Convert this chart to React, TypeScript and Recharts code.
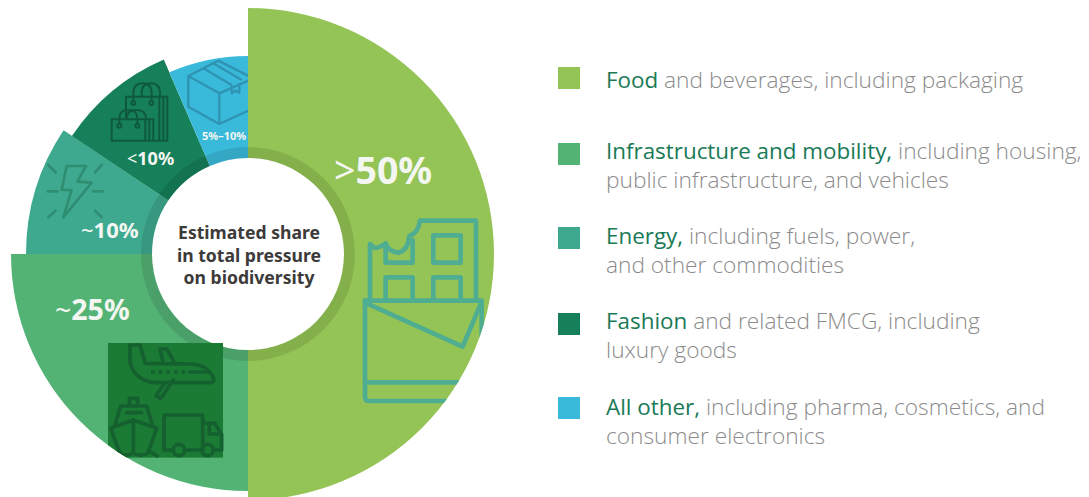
import React from "react";
import { PieChart, Pie, Sector, Legend } from "recharts";

// Share of total pressure on biodiversity, by value chain
const sectors = ["Food", "Infrastructure and mobility", "Energy", "Fashion", "All other"];
const shares = [50, 25, 9.4, 9.1, 6.5];
const shareLabels = [">50%", "~25%", "~10%", "<10%", "5%–10%"];

const centerLines = ["Estimated share", "in total pressure", "on biodiversity"];

const legendLead = ["Food", "Infrastructure and mobility,", "Energy,", "Fashion", "All other,"];
const legendRest = [
  " and beverages, including packaging",
  " including housing,",
  " including fuels, power,",
  " and related FMCG, including",
  " including pharma, cosmetics, and",
];
const legendSecond = [
  "",
  "public infrastructure, and vehicles",
  "and other commodities",
  "luxury goods",
  "consumer electronics",
];

// Presentation settings, kept apart from the values
const sliceColors = ["#94C455", "#53B374", "#3EA98E", "#16805A", "#3ABADB"];
const sliceRadii = [246, 237, 222, 212, 198];
const CX = 248;
const CY = 254;
const HOLE = 96;
const BAND = 107;
const LEAD_COLOR = "#197A56";
const REST_COLOR = "#8B8B8B";
const FONT = "'Open Sans', sans-serif";
const LABEL_FONT = "'Noto Sans', sans-serif";

const pieData = sectors.map((name, i) => ({ name, value: shares[i], index: i }));

const swatchY = [67, 143, 227, 313, 397];
const firstBaseline = [88, 159, 244, 329, 415];
const secondBaseline = [0, 188, 273, 358, 444];

function VariableSlice(props: any) {
  const i = props.payload.index;
  return <Sector {...props} innerRadius={HOLE} outerRadius={sliceRadii[i]} fill={sliceColors[i]} stroke="none" />;
}

function BandSlice(props: any) {
  return <Sector {...props} fill="#000" fillOpacity={0.1} stroke="none" />;
}

function LegendBlock() {
  return (
    <svg width={1089} height={497} style={{ position: "absolute", left: 0, top: 0 }}>
      {sectors.map((name, i) => (
        <g key={name}>
          <rect x={558} y={swatchY[i]} width={22} height={22} fill={sliceColors[i]} />
          <text x={606} y={firstBaseline[i]} fontFamily={FONT} fontSize={22.7} fill={REST_COLOR} fontWeight={300}>
            <tspan fill={LEAD_COLOR} fontWeight={400} fontSize={22.4}>{legendLead[i]}</tspan>
            <tspan>{legendRest[i]}</tspan>
          </text>
          {legendSecond[i] && (
            <text x={606} y={secondBaseline[i]} fontFamily={FONT} fontSize={22.7} fill={REST_COLOR} fontWeight={300}>
              {legendSecond[i]}
            </text>
          )}
        </g>
      ))}
    </svg>
  );
}

function ShareLabel({ x, y, size, text }: { x: number; y: number; size: number; text: string }) {
  const mark = text[0] === ">" || text[0] === "<" || text[0] === "~";
  return (
    <text x={x} y={y} fontFamily={LABEL_FONT} fontSize={size} fontWeight={700} fill="#F4F6F2">
      {mark && <tspan fontWeight={400}>{text[0]}</tspan>}
      <tspan>{mark ? text.slice(1) : text}</tspan>
    </text>
  );
}

// Icons, slice labels and the caption in the hole, layered over the pie
function PieOverlay() {
  return (
    <svg width={1089} height={497} style={{ position: "absolute", left: 0, top: 0, pointerEvents: "none" }}>
      <defs>
        <clipPath id="foodClip"><circle cx={CX} cy={CY} r={sliceRadii[0]} /></clipPath>
        <clipPath id="mobilityClip"><circle cx={CX} cy={CY} r={sliceRadii[1]} /></clipPath>
        <clipPath id="otherClip"><rect x={0} y={0} width={CX} height={CY} /></clipPath>
      </defs>

      {/* Transport icon on the infrastructure slice */}
      <g clipPath="url(#mobilityClip)">
        <g transform="translate(0,250) scale(0.3333)">
          <rect x={324} y={279} width={345} height={344} fill="#1B7A34" />
          <g fill="none" stroke="#14602F" strokeWidth={11} strokeLinejoin="round" strokeLinecap="round">
            <path d="M390,337 L390,285 L420,285 L436,340 L570,342 Q620,342 640,382 Q645,398 630,398 L470,398 Q405,395 390,337 Z" />
            <path d="M490,340 L480,297 L500,297 L525,340" />
            <path d="M495,398 L468,437 L482,446 L520,390" />
            <path d="M453,366 L555,366" strokeDasharray="11 12" strokeLinecap="butt" />
            <path d="M570,366 L628,366" />
            <path d="M388,465 V445 H413 V465" />
            <path d="M345,525 L362,468 L440,468 L457,525" />
            <path d="M332,535 L400,510 L470,535 L445,605 M332,535 L358,605" />
            <path d="M400,510 V605 M380,488 H425" />
            <path d="M355,605 Q380,625 400,608 Q425,625 450,605 L472,618" />
            <path d="M555,600 H605 M518,600 H492 V495 H608 V600" />
            <path d="M608,520 H645 L665,555 V600 H640 M628,520 V552 H665" />
            <circle cx={537} cy={600} r={17} />
            <circle cx={623} cy={600} r={17} />
          </g>
        </g>
      </g>

      {/* Chocolate bar icon on the food slice */}
      <g clipPath="url(#foodClip)">
        <g transform="translate(250,130) scale(0.3333)" fill="none" stroke="#4FAD91" strokeWidth={14} strokeLinejoin="round" strokeLinecap="round">
          <path d="M360,510 V342 Q372,358 385,352 Q395,350 407,340 Q415,365 445,368 Q475,360 478,318 Q505,310 510,272 H678 V510" />
          <path d="M407,345 V398 H488 V330" />
          <rect x={550} y={316} width={82} height={82} />
          <path d="M407,510 V442 H488 V510 M550,510 V442 H632 V510" />
          <path d="M345,512 H695 V620" />
          <path d="M345,512 V800 Q345,813 358,813 H640 M345,757 H640" />
          <path d="M345,518 L638,650 L695,515" />
        </g>
      </g>

      {/* Lightning bolt on the energy slice */}
      <g transform="scale(0.3333)" fill="none" stroke="#2F8D71" strokeWidth={8} strokeLinejoin="round" strokeLinecap="round">
        <path d="M200,498 L258,498 L232,545 L275,548 L190,652 L215,570 L185,570 Z" />
        <path d="M145,495 L167,517 M305,495 L285,517 M143,574 H172 M280,574 H308 M145,652 L167,632 M305,652 L285,632" />
      </g>

      {/* Shopping bags on the fashion slice */}
      <g transform="scale(0.3333)" fill="none" stroke="#0F5A3C" strokeWidth={6}>
        <path d="M378,358 V290 H502 V422 H335 V358 H460 V422" />
        <path d="M478,290 V422 M490,290 V422 M436,358 V422 M448,358 V422" />
        <path d="M400,303 V280 Q400,250 428,250 Q455,250 455,280 V303" />
        <path d="M425,290 V280 Q425,250 452,250 Q480,250 480,280 V290" />
        <circle cx={400} cy={309} r={6} />
        <circle cx={454} cy={309} r={6} />
        <path d="M358,371 V355 Q358,330 385,330 Q412,330 412,355 V371" />
        <path d="M380,358 Q380,330 410,330 Q438,330 438,358" />
        <circle cx={358} cy={377} r={6} />
        <circle cx={412} cy={377} r={6} />
      </g>

      {/* Parcel on the remaining slice */}
      <g clipPath="url(#otherClip)">
        <g transform="scale(0.3333)" fill="none" stroke="#2F93B3" strokeWidth={7} strokeLinejoin="round">
          <path d="M565,228 L655,182 L760,235 L658,280 Z" />
          <path d="M565,228 V320 L658,372 L760,325 M658,280 V372" />
          <path d="M610,205 L695,255 M640,190 L725,240" />
          <path d="M695,255 V280 L705,272 L718,278 V250" />
        </g>
      </g>

      <ShareLabel x={334} y={184} size={37.5} text={shareLabels[0]} />
      <ShareLabel x={55} y={320} size={28.5} text={shareLabels[1]} />
      <ShareLabel x={81} y={238} size={22} text={shareLabels[2]} />
      <ShareLabel x={127} y={165} size={18} text={shareLabels[3]} />
      <ShareLabel x={202} y={140} size={11} text={shareLabels[4]} />

      {centerLines.map((line, i) => (
        <text key={line} x={249} y={239 + i * 22.5} textAnchor="middle" fontFamily={LABEL_FONT} fontSize={17.6} fontWeight={700} fill="#3D3A3A">
          {line}
        </text>
      ))}
    </svg>
  );
}

export default function App() {
  return (
    <div style={{ position: "absolute", left: 0, top: 0, width: 1089, height: 497, overflow: "hidden", background: "#fff" }}>
      <PieChart width={1089} height={497} margin={{ top: 0, right: 0, bottom: 0, left: 0 }}>
        <Pie
          data={pieData}
          dataKey="value"
          nameKey="name"
          cx={CX}
          cy={CY}
          innerRadius={HOLE}
          outerRadius={246}
          startAngle={90}
          endAngle={-270}
          stroke="none"
          shape={VariableSlice}
          isAnimationActive={false}
        />
        <Pie
          data={pieData}
          dataKey="value"
          nameKey="name"
          cx={CX}
          cy={CY}
          innerRadius={HOLE}
          outerRadius={BAND}
          startAngle={90}
          endAngle={-270}
          stroke="none"
          shape={BandSlice}
          isAnimationActive={false}
        />
        <Legend content={LegendBlock} wrapperStyle={{ left: 0, top: 0, width: 1089, height: 497, pointerEvents: "none" }} />
      </PieChart>
      <PieOverlay />
    </div>
  );
}
